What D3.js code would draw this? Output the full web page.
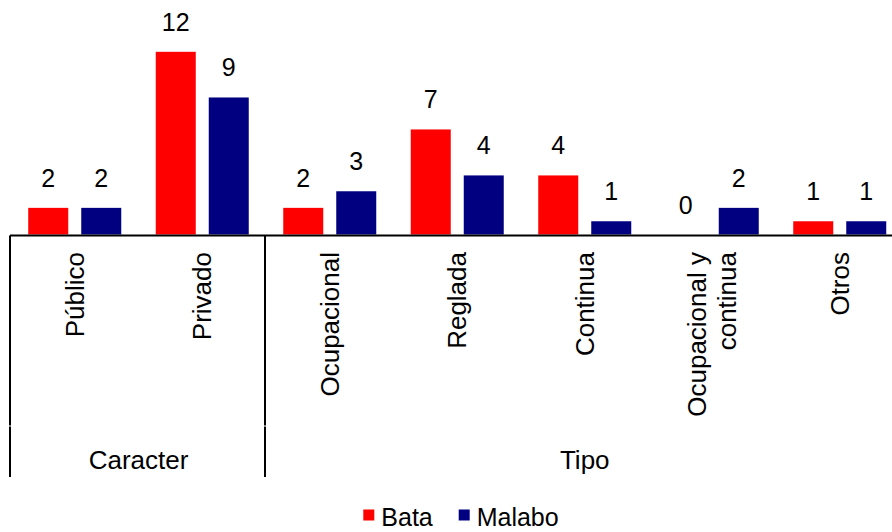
<!DOCTYPE html>
<html>
<head>
<meta charset="utf-8">
<script src="https://cdn.jsdelivr.net/npm/d3@7"></script>
<style>
  html, body { margin: 0; padding: 0; background: #fff; }
  svg { display: block; font-family: "Liberation Sans", Arial, sans-serif; }
</style>
</head>
<body>
<svg id="chart" width="892" height="532"></svg>
<script>
// ---- data ----
const categories = ["Público", "Privado", "Ocupacional", "Reglada", "Continua", "Ocupacional y continua", "Otros"];
const categoryLines = [["Público"], ["Privado"], ["Ocupacional"], ["Reglada"], ["Continua"], ["Ocupacional y", "continua"], ["Otros"]];
const groups = ["Caracter", "Tipo"];
const groupSizes = [2, 5];
const series = ["Bata", "Malabo"];
const bataValues = [1.75, 12.0, 1.75, 6.9, 3.88, 0, 0.87];
const malaboValues = [1.75, 9.0, 2.84, 3.88, 0.87, 1.75, 0.87];
const colors = ["#FF0000", "#000080"];

// ---- layout ----
const svg = d3.select("#chart");
const baseY = 234.5;
const x0 = d3.scaleBand().domain(categories).range([11, 903.5]).padding(0);
const x1 = d3.scaleBand().domain(series).range([0, x0.bandwidth()])
  .paddingInner(0.2453).paddingOuter(0.3255);
const y = d3.scaleLinear().domain([0, 12]).range([baseY, baseY - 182.7]);
const color = d3.scaleOrdinal().domain(series).range(colors);
const fmt = d3.format(".0f");

const rows = categories.map((c, i) => ({
  cat: c,
  vals: [{s: "Bata", v: bataValues[i]}, {s: "Malabo", v: malaboValues[i]}]
}));

// bars
const g = svg.append("g");
const catG = g.selectAll("g.cat").data(rows).join("g")
  .attr("class", "cat")
  .attr("transform", d => `translate(${x0(d.cat)},0)`);

catG.selectAll("rect").data(d => d.vals.filter(e => e.v > 0)).join("rect")
  .attr("x", d => x1(d.s))
  .attr("width", x1.bandwidth())
  .attr("y", d => y(d.v))
  .attr("height", d => y(0) - y(d.v))
  .attr("fill", d => color(d.s));

// value labels
catG.selectAll("text.val").data(d => d.vals).join("text")
  .attr("class", "val")
  .attr("x", d => x1(d.s) + x1.bandwidth() / 2)
  .attr("y", d => y(d.v) - 21)
  .attr("text-anchor", "middle")
  .attr("font-size", 25)
  .attr("fill", "#000")
  .text(d => fmt(d.v));

// axis line
svg.append("line")
  .attr("x1", x0.range()[0] - 1).attr("x2", 892)
  .attr("y1", baseY + 1).attr("y2", baseY + 1)
  .attr("stroke", "#000").attr("stroke-width", 2);

// category labels (rotated)
categories.forEach((c, i) => {
  const cx = x0(c) + x0.bandwidth() / 2;
  const lines = categoryLines[i];
  const t = svg.append("text")
    .attr("transform", `translate(${cx},252) rotate(-90)`)
    .attr("text-anchor", "end")
    .attr("font-size", 26)
    .attr("fill", "#000");
  lines.forEach((ln, j) => {
    t.append("tspan")
      .attr("x", 0)
      .attr("y", (j - (lines.length - 1) / 2) * 30)
      .attr("dy", "0.35em")
      .text(ln);
  });
});

// group tiers
let start = 0;
const tierTop = baseY + 1, tierMid = 426, tierBottom = 477;
const bounds = [];
groups.forEach((gname, k) => {
  const first = categories[start];
  const last = categories[start + groupSizes[k] - 1];
  const gx0 = x0(first);
  const gx1 = x0(last) + x0.bandwidth();
  bounds.push(gx0, gx1);
  svg.append("text")
    .attr("x", (gx0 + gx1) / 2)
    .attr("y", 469)
    .attr("text-anchor", "middle")
    .attr("font-size", 26)
    .attr("fill", "#000")
    .text(gname);
  start += groupSizes[k];
});
Array.from(new Set(bounds.map(b => Math.round(b * 2) / 2))).forEach(bx => {
  const xx = bx - 1;
  svg.append("line").attr("x1", xx).attr("x2", xx).attr("y1", tierTop).attr("y2", tierMid - 0.5)
    .attr("stroke", "#000").attr("stroke-width", 2);
  svg.append("line").attr("x1", xx).attr("x2", xx).attr("y1", tierMid + 0.5).attr("y2", tierBottom)
    .attr("stroke", "#000").attr("stroke-width", 2);
});

// legend
const legendX = [363.3, 458.7];
series.forEach((s, i) => {
  svg.append("rect")
    .attr("x", legendX[i]).attr("y", 509.5)
    .attr("width", 11).attr("height", 11)
    .attr("fill", color(s));
  svg.append("text")
    .attr("x", legendX[i] + 18).attr("y", 526)
    .attr("font-size", 25)
    .attr("fill", "#000")
    .text(s);
});
</script>
</body>
</html>
